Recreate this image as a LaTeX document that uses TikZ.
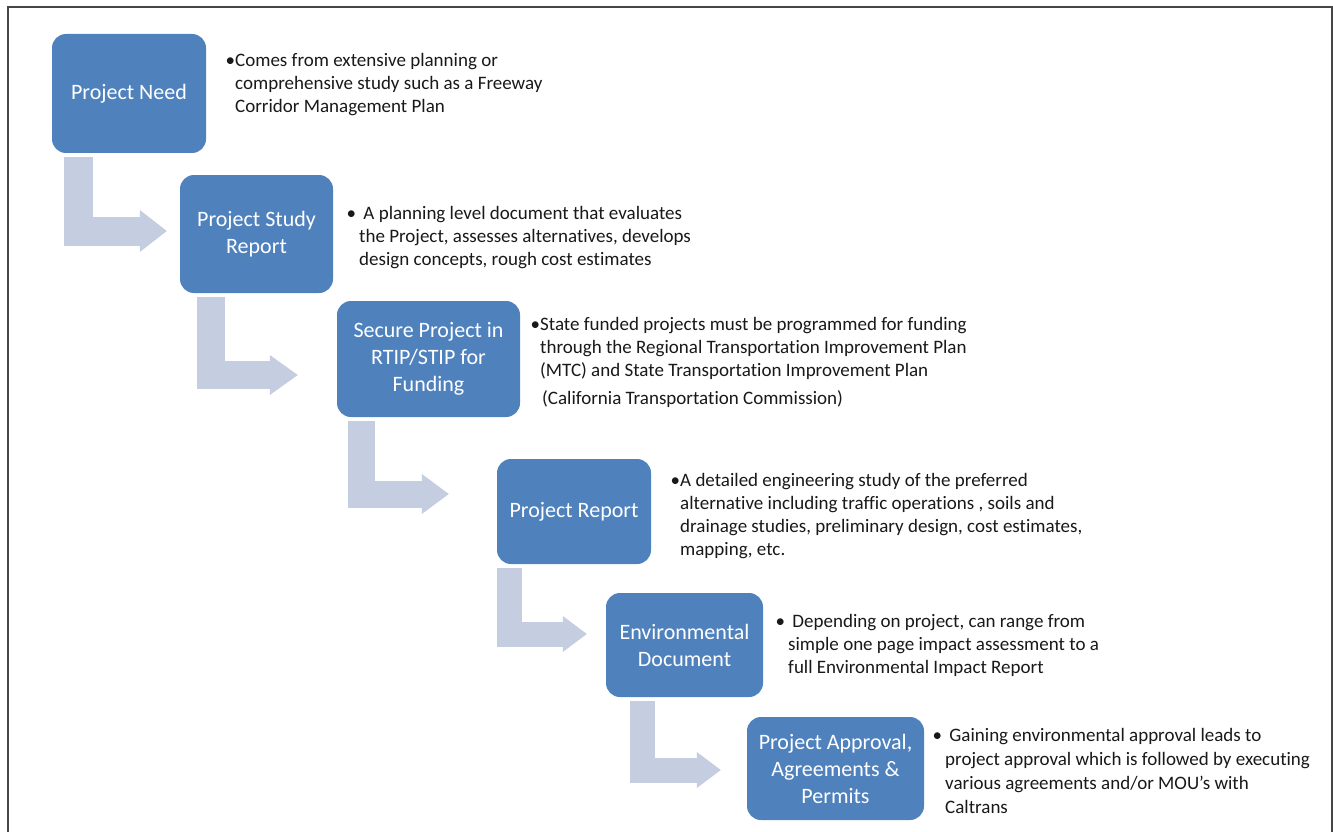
\documentclass[tikz,border=0pt]{standalone}
\usepackage{fontspec}
\setmainfont{Carlito}[Ligatures=NoCommon]
\usetikzlibrary{arrows.meta}
\definecolor{boxblue}{RGB}{79,129,189}
\definecolor{arrowgray}{RGB}{196,206,224}
\definecolor{framegray}{RGB}{70,70,70}
\tikzset{
  stepbox/.style={fill=boxblue, rounded corners=14pt, text=white, align=center,
    font=\fontsize{22}{27}\selectfont, inner sep=0pt},
  notetext/.style={anchor=north west, align=left, inner sep=0pt,
    font=\fontsize{19}{23}\selectfont, text=black!90}
}
\begin{document}
\begin{tikzpicture}[x=1pt,y=-1pt]
\useasboundingbox (0,0) rectangle (1333,832);
\fill[white] (0,0) rectangle (1333,832);
\draw[framegray, line width=1.5pt] (8,832) -- (8,7) -- (1332,7) -- (1332,832); % frame, open at the bottom

% the six steps
\node[stepbox, minimum width=154pt, minimum height=119pt] (needbox) at (129,93.5) {Project Need};
\node[stepbox, minimum width=153pt, minimum height=118pt] (studybox) at (256.5,234) {Project Study\\Report};
\node[stepbox, minimum width=183pt, minimum height=116pt] (fundbox) at (428.5,359) {Secure Project in\\RTIP/STIP for\\Funding};
\node[stepbox, minimum width=154pt, minimum height=105pt] (reportbox) at (574,511.5) {Project Report};
\node[stepbox, minimum width=157pt, minimum height=104pt] (envbox) at (684.5,645) {Environmental\\Document};
\node[stepbox, minimum width=177pt, minimum height=103pt] (approvalbox) at (835.5,768.5) {Project Approval,\\Agreements \&\\Permits};

% bent arrows between the steps
\foreach \a/\b/\vx/\hy/\gap/\lw/\hl/\hw in {needbox/studybox/78/231/13/29/27/42,
    studybox/fundbox/211/375/39/28/28/40,
    fundbox/reportbox/361/494/48/27/27/40,
    reportbox/envbox/509/634/19/25/24/36,
    envbox/approvalbox/642/770/26/25/24/36}
  \draw[arrowgray, line width=\lw pt, shorten <=4pt, shorten >=\gap pt,
    -{Triangle[length=\hl pt, width=\hw pt, line width=0pt]}]
    (\a.south -| \vx,0) |- (\b.west |- 0,\hy);

% the notes
\node[notetext] (neednote) at (235,50) {\strut\llap{•}Comes from extensive planning or\\
  comprehensive study such as a Freeway\\Corridor Management Plan};
\node[notetext] (studynote) at (359,203) {\strut\llap{•\,}\ A planning level document that evaluates\\
  the Project, assesses alternatives, develops\\design concepts, rough cost estimates};
\node[notetext] (fundnote) at (540,314) {\strut\llap{•}State funded projects must be programmed for funding\\
  through the Regional Transportation Improvement Plan\\(MTC) and State Transportation Improvement Plan};
\node[notetext] (fundsource) at (542,388) {\strut(California Transportation Commission)};
\node[notetext] (reportnote) at (680,470) {\strut\llap{•}A detailed engineering study of the preferred\\
  alternative including traffic operations , soils and\\drainage studies, preliminary design, cost estimates,\\mapping, etc.};
\node[notetext] (envnote) at (788,611) {\strut\llap{•\,}\ Depending on project, can range from\\
  simple one page impact assessment to a\\full Environmental Impact Report};
\node[notetext, font=\fontsize{19}{24}\selectfont] (approvalnote) at (945,724) {\strut\llap{•\,}\ Gaining environmental approval leads to\\
  project approval which is followed by executing\\various agreements and/or MOU's with\\Caltrans};
\end{tikzpicture}
\end{document}
